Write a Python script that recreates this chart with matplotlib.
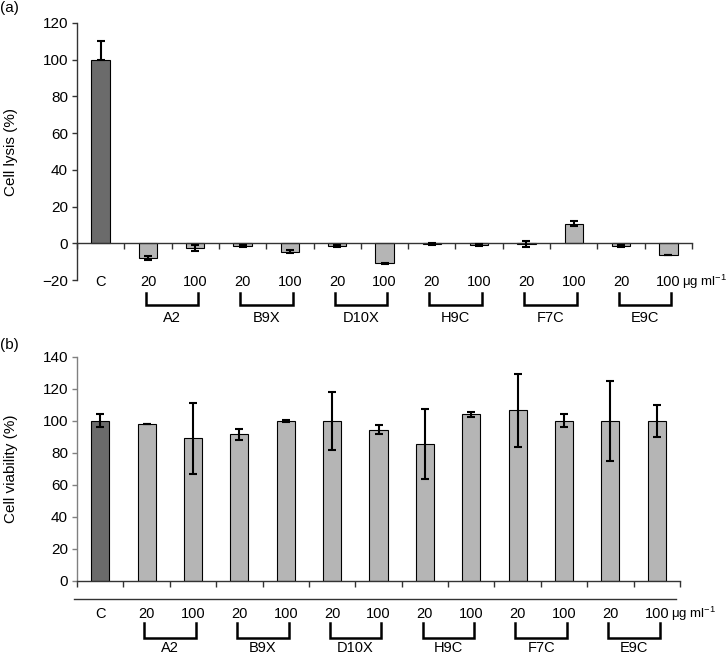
import numpy as np
import matplotlib
matplotlib.use("Agg")
import matplotlib.pyplot as plt
from matplotlib.transforms import blended_transform_factory

plt.rcParams['font.family'] = ['Liberation Sans', 'DejaVu Sans']
plt.rcParams['mathtext.fontset'] = 'custom'
plt.rcParams['mathtext.rm'] = 'Liberation Sans'
plt.rcParams['mathtext.it'] = 'Liberation Sans:italic'

# ---- data ----
cat_labels = ["C", "20", "100", "20", "100", "20", "100", "20", "100", "20", "100", "20", "100"]
groups = ["A2", "B9X", "D10X", "H9C", "F7C", "E9C"]

lysis = [100, -8, -2.5, -1.5, -4.5, -1.5, -11, -0.5, -1, -0.5, 10.5, -1.5, -6.5]
lysis_err_lo = [0, 1, 1.5, 0.5, 1, 0.5, 0.5, 0.5, 0.5, 1.5, 1, 0.5, 0]
lysis_err_hi = [10, 1, 1.5, 0.5, 1, 0.5, 0.5, 0.5, 0.5, 1.5, 1.5, 0.5, 0]

viability = [100, 98, 89, 91.5, 100, 100, 94.5, 85.5, 104, 106.5, 100, 100, 100]
viability_err = [4, 0, 22, 3.5, 0.5, 18, 3, 21.7, 1.5, 23, 4, 25, 10]

dark = "#6b6b6b"
light = "#b5b5b5"
colors = [dark] + [light] * 12

W, H = 727, 655
fig = plt.figure(figsize=(W / 100, H / 100), dpi=100)

def axpos(l, r, t, b):
    return [l / W, 1 - b / H, (r - l) / W, (b - t) / H]

ax1 = fig.add_axes(axpos(77, 692, 23, 280))
ax2 = fig.add_axes(axpos(77, 680, 356.7, 580.7))

x = np.arange(len(cat_labels)) + 0.5
fs = 10.5

def style(ax, ylim, yticks, zero_pos, spine_col):
    ax.set_xlim(0, len(cat_labels))
    ax.set_ylim(*ylim)
    ax.set_yticks(yticks)
    for s in ['top', 'right']:
        ax.spines[s].set_visible(False)
    ax.spines['bottom'].set_position(('data', zero_pos))
    ax.spines['left'].set_linewidth(1.0)
    ax.spines['bottom'].set_linewidth(1.0)
    ax.spines['left'].set_color(spine_col)
    ax.spines['bottom'].set_color('#333333')
    ax.set_xticks(np.arange(len(cat_labels) + 1))
    ax.set_xticklabels([])
    ax.tick_params(axis='x', direction='out', length=4, width=1, color='#333333')
    ax.tick_params(axis='y', direction='out', length=3.5, width=1, color=spine_col, labelsize=11, pad=3)

def labels(ax, y_cat, y_br_top, y_br_bot, y_grp, unit_x):
    tr = blended_transform_factory(ax.transData, ax.transAxes)
    for xi, lab in zip(x, cat_labels):
        ax.text(xi, y_cat, lab, transform=tr, ha='center', va='center', fontsize=fs)
    ax.text(unit_x, y_cat, r'μg ml$^{-1}$', transform=tr, ha='left', va='center', fontsize=9.5)
    for g, name in enumerate(groups):
        x0 = x[1 + 2 * g] - 0.05
        x1 = x[2 + 2 * g] + 0.06
        ax.plot([x0, x0, x1, x1], [y_br_top, y_br_bot, y_br_bot, y_br_top], transform=tr,
                color='black', lw=1.8, clip_on=False, solid_joinstyle='miter')
        ax.text((x0 + x1) / 2, y_grp, name, transform=tr, ha='center', va='center', fontsize=fs)

# ---- panel a ----
style(ax1, (-20, 120), [-20, 0, 20, 40, 60, 80, 100, 120], 0, '#333333')
ax1.bar(x, lysis, width=0.39, color=colors, edgecolor='black', linewidth=0.8, zorder=2)
ax1.errorbar(x, lysis, yerr=[lysis_err_lo, lysis_err_hi], fmt='none', ecolor='black',
             elinewidth=1.5, capsize=3, capthick=1.5, zorder=3)
ax1.set_ylabel('Cell lysis (%)', fontsize=11)
labels(ax1, -0.008, -0.051, -0.097, -0.148, 12.79)

# ---- panel b ----
style(ax2, (0, 140), [0, 20, 40, 60, 80, 100, 120, 140], 0, '#808080')
ax2.bar(x, viability, width=0.39, color=colors, edgecolor='black', linewidth=0.8, zorder=2)
ax2.errorbar(x, viability, yerr=viability_err, fmt='none', ecolor='black',
             elinewidth=1.5, capsize=3, capthick=1.5, zorder=3)
ax2.set_ylabel('Cell viability (%)', fontsize=11)
ax2.plot([-0.005, 0.993], [-0.082, -0.082], transform=ax2.transAxes, color='#333333',
         lw=1.0, clip_on=False)
labels(ax2, -0.149, -0.190, -0.257, -0.2985, 12.81)

ax1.yaxis.set_label_coords(-0.096, 0.5)
ax2.yaxis.set_label_coords(-0.098, 0.5)

fig.text(0.0, 1 - 8 / H, '(a)', ha='left', va='center', fontsize=11)
fig.text(0.0, 1 - 345 / H, '(b)', ha='left', va='center', fontsize=11)

fig.savefig('out.png', dpi=100)
